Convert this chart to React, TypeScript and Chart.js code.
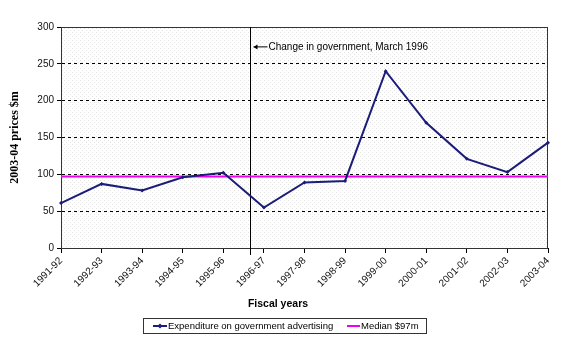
import React, { useEffect, useRef } from "react";
import { Chart, registerables } from "chart.js";

Chart.register(...registerables);

const fiscalYears = [
  "1991-92", "1992-93", "1993-94", "1994-95", "1995-96", "1996-97", "1997-98",
  "1998-99", "1999-00", "2000-01", "2001-02", "2002-03", "2003-04",
];
const expenditure = [61, 87, 78, 96, 102, 55, 89, 91, 240, 170, 121, 103, 143];
const medianValue = 97;
const medianSeries = fiscalYears.map(() => medianValue);
const governmentChangeIndex = 4.65;
const annotationText = "Change in government, March 1996";
const yTitle = "2003-04 prices $m";
const xTitle = "Fiscal years";

const NAVY = "#1c1c7a";
const MAGENTA = "#f000f0";

function makePattern(): CanvasPattern | string {
  const c = document.createElement("canvas");
  c.width = 4;
  c.height = 4;
  const g = c.getContext("2d");
  if (!g) return "#f7f7f7";
  g.fillStyle = "#ffffff";
  g.fillRect(0, 0, 4, 4);
  g.fillStyle = "#e4e4e4";
  g.fillRect(0, 0, 1, 1);
  g.fillRect(2, 2, 1, 1);
  const p = g.createPattern(c, "repeat");
  return p || "#f7f7f7";
}

const decorPlugin = {
  id: "decor",
  beforeDraw(chart: any) {
    const { ctx, chartArea } = chart;
    ctx.save();
    ctx.fillStyle = "#ffffff";
    ctx.fillRect(0, 0, chart.width, chart.height);
    ctx.fillStyle = makePattern();
    ctx.fillRect(chartArea.left, chartArea.top, chartArea.right - chartArea.left, chartArea.bottom - chartArea.top);
    ctx.restore();
  },
  beforeDatasetsDraw(chart: any) {
    const { ctx, chartArea, scales } = chart;
    ctx.save();
    ctx.setLineDash([]);
    // plot border
    ctx.strokeStyle = "#333333";
    ctx.lineWidth = 1;
    ctx.strokeRect(chartArea.left + 0.5, chartArea.top + 0.5, chartArea.right - chartArea.left - 1, chartArea.bottom - chartArea.top);
    // vertical change-of-government line
    const x = Math.round(scales.x.getPixelForValue(governmentChangeIndex)) + 0.5;
    ctx.strokeStyle = "#000000";
    ctx.beginPath();
    ctx.moveTo(x, chartArea.top);
    ctx.lineTo(x, chartArea.bottom + 7);
    ctx.stroke();
    // annotation arrow + text
    const ay = scales.y.getPixelForValue(273);
    ctx.beginPath();
    ctx.moveTo(x + 3, ay);
    ctx.lineTo(x + 17, ay);
    ctx.stroke();
    ctx.beginPath();
    ctx.moveTo(x + 3, ay);
    ctx.lineTo(x + 7, ay - 2.5);
    ctx.lineTo(x + 7, ay + 2.5);
    ctx.closePath();
    ctx.fillStyle = "#000000";
    ctx.fill();
    ctx.font = "10px 'Liberation Sans', Arial, sans-serif";
    ctx.textBaseline = "middle";
    ctx.textAlign = "left";
    ctx.fillText(annotationText, x + 18, ay);
    ctx.restore();
  },
  afterDraw(chart: any) {
    const { ctx } = chart;
    ctx.save();
    // x title
    ctx.font = "bold 10.5px 'Liberation Sans', Arial, sans-serif";
    ctx.fillStyle = "#000000";
    ctx.textAlign = "center";
    ctx.textBaseline = "middle";
    ctx.fillText(xTitle, 278, 304);
    // legend
    const bx = 143, by = 318, bw = 283, bh = 15;
    ctx.strokeStyle = "#333333";
    ctx.lineWidth = 1;
    ctx.strokeRect(bx + 0.5, by + 0.5, bw, bh);
    const ly = by + 8;
    const ds = chart.data.datasets;
    ctx.font = "9.5px 'Liberation Sans', Arial, sans-serif";
    ctx.textAlign = "left";
    ctx.textBaseline = "middle";
    // item 1
    ctx.strokeStyle = ds[0].borderColor;
    ctx.lineWidth = 2;
    ctx.beginPath();
    ctx.moveTo(153, ly);
    ctx.lineTo(167, ly);
    ctx.stroke();
    ctx.fillStyle = ds[0].borderColor;
    ctx.beginPath();
    ctx.moveTo(160, ly - 2.5);
    ctx.lineTo(162.5, ly);
    ctx.lineTo(160, ly + 2.5);
    ctx.lineTo(157.5, ly);
    ctx.closePath();
    ctx.fill();
    ctx.fillStyle = "#000000";
    ctx.fillText(ds[0].label, 168, ly);
    // item 2
    ctx.strokeStyle = ds[1].borderColor;
    ctx.beginPath();
    ctx.moveTo(347, ly);
    ctx.lineTo(360, ly);
    ctx.stroke();
    ctx.fillStyle = "#000000";
    ctx.fillText(ds[1].label, 361, ly);
    ctx.restore();
  },
};

export default function App() {
  const ref = useRef<HTMLCanvasElement | null>(null);
  useEffect(() => {
    document.body.style.margin = "0";
    const canvas = ref.current;
    if (!canvas) return;
    const chart = new Chart(canvas, {
      type: "line",
      data: {
        labels: fiscalYears,
        datasets: [
          {
            label: "Expenditure on government advertising",
            data: expenditure,
            borderColor: NAVY,
            backgroundColor: NAVY,
            borderWidth: 2,
            pointStyle: "rectRot",
            pointRadius: 2,
            pointBorderWidth: 0,
            tension: 0,
          },
          {
            label: "Median $97m",
            data: medianSeries,
            borderColor: MAGENTA,
            backgroundColor: MAGENTA,
            borderWidth: 2,
            pointRadius: 0,
            tension: 0,
          },
        ],
      },
      options: {
        animation: false,
        responsive: false,
        devicePixelRatio: 1,
        layout: { padding: { left: 0, right: 27, top: 27, bottom: 0 } },
        plugins: {
          legend: { display: false },
          tooltip: { enabled: false },
        },
        scales: {
          x: {
            type: "category",
            offset: false,
            afterFit: (s: any) => { s.height = 106; },
            grid: {
              drawOnChartArea: false,
              drawTicks: true,
              tickLength: 5,
              tickColor: "#000000",
              tickBorderDash: [],
            },
            border: { display: true, color: "#000000", width: 1 },
            ticks: {
              autoSkip: false,
              maxRotation: 45,
              minRotation: 45,
              padding: 2,
              color: "#111111",
              font: { family: "'Liberation Sans', Arial, sans-serif", size: 10 },
            },
          },
          y: {
            min: 0,
            max: 300,
            afterFit: (s: any) => { s.width = 61; },
            title: {
              display: true,
              text: yTitle,
              color: "#000000",
              padding: { top: 8, bottom: 0 },
              font: { family: "'Liberation Serif', 'Times New Roman', serif", size: 12, weight: "bold" },
            },
            grid: {
              color: (c: any) => (c.tick && (c.tick.value === 0 || c.tick.value === 300) ? "rgba(0,0,0,0)" : "#000000"),
              lineWidth: 1,
              tickBorderDash: [],
              drawTicks: true,
              tickLength: 4,
              tickColor: "#000000",
            },
            border: { display: true, color: "#000000", width: 1, dash: [3, 3] },
            ticks: {
              stepSize: 50,
              padding: 3,
              color: "#111111",
              font: { family: "'Liberation Sans', Arial, sans-serif", size: 10 },
            },
          },
        },
      },
      plugins: [decorPlugin],
    } as any);
    return () => chart.destroy();
  }, []);
  return (
    <div style={{ position: "absolute", left: 0, top: 0, width: 575, height: 354 }}>
      <canvas ref={ref} width={575} height={354} style={{ width: 575, height: 354 }} />
    </div>
  );
}
